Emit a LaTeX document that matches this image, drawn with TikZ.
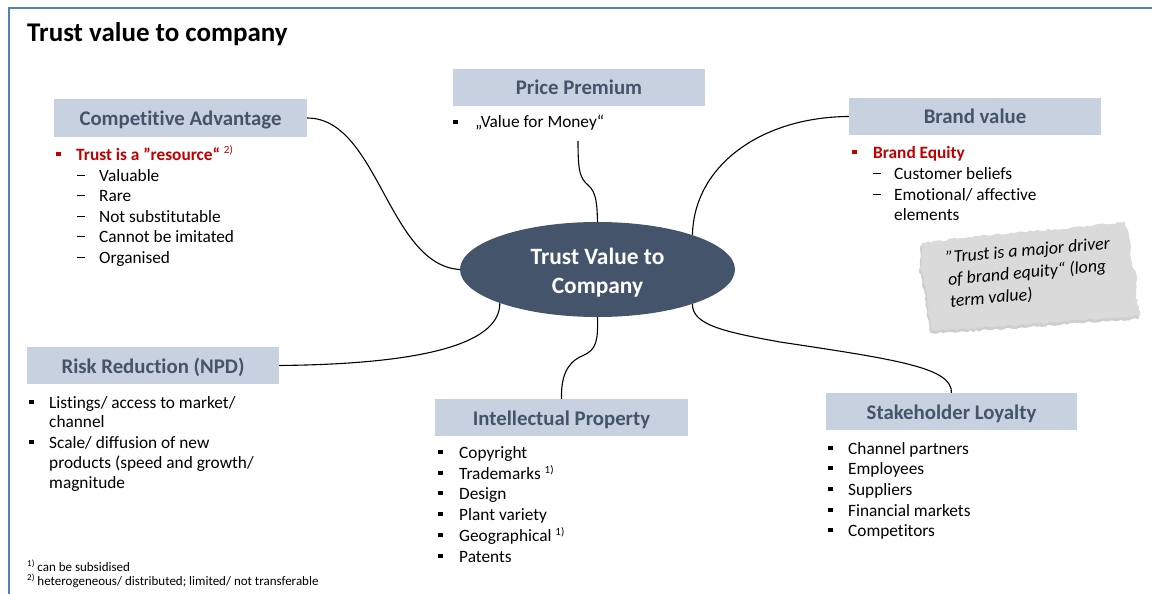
\documentclass[tikz,border=0pt]{standalone}
\usepackage{fontspec}
\setmainfont[Ligatures=NoCommon]{Carlito}
\usetikzlibrary{shapes.geometric,shadows,decorations.pathmorphing}
\definecolor{hdr}{RGB}{68,84,106}
\definecolor{boxfill}{RGB}{200,209,223}
\definecolor{redt}{RGB}{192,0,0}
\definecolor{framec}{RGB}{79,129,189}
\definecolor{notefill}{RGB}{218,218,218}
\newcommand\sqb{\rule[3.8pt]{4.5pt}{4.5pt}}
\newcommand\dsh{\rule[5.5pt]{8pt}{0.7pt}}
\newcommand\supn[1]{\raisebox{6pt}{\fontsize{11}{12}\selectfont #1}}
\newcommand\supf[1]{\raisebox{4.5pt}{\fontsize{9}{10}\selectfont #1}}
\begin{document}
\begin{tikzpicture}[x=1pt,y=-1pt,
  hbox/.style={rectangle,fill=boxfill,minimum width=252pt,minimum height=37pt,inner sep=0pt,text height=15pt,text depth=0pt,text=hdr,font=\fontsize{20.8}{24}\selectfont\bfseries},
  li/.style={anchor=base west,inner sep=0pt,font=\fontsize{17.3}{20.7}\selectfont},
  conn/.style={draw=black,line width=1.1pt},
  ]
\useasboundingbox (0,0) rectangle (1152,594);
\draw[framec,line width=2pt] (9,594) -- (9,8) -- (1152,8);

% title
\node[anchor=base west,inner sep=0pt,font=\fontsize{27}{32}\selectfont\bfseries] (title) at (27,42) {Trust value to company};

% torn note
\path[fill=notefill,drop shadow={shadow xshift=-1.5pt,shadow yshift=-3pt,fill=gray!55,opacity=0.7},decorate,decoration={random steps,segment length=3pt,amplitude=1pt}]
 (922,243) -- (960,238) -- (1010,233) -- (1070,228) -- (1125,222) -- (1130,240) -- (1131,260) -- (1137,278) -- (1136,295) -- (1140,316) -- (1080,320) -- (1020,325) -- (960,329) -- (932,330) -- (928,310) -- (926,290) -- (921,270) -- cycle;
\node[font=\fontsize{17.8}{22}\selectfont\itshape,align=left,rotate=5,inner sep=0pt] (note) at (1030,273) {”Trust is a major driver\\of brand equity“ (long\\term value)};

% header boxes
\node[hbox,minimum width=253pt,minimum height=38pt] (ca) at (180.5,118) {Competitive Advantage};
\node[hbox] (pp) at (579,87.5) {Price Premium};
\node[hbox] (bv) at (975,116.5) {Brand value};
\node[hbox] (rr) at (153,365.5) {Risk Reduction (NPD)};
\node[hbox,minimum width=253pt] (ip) at (561.5,417.5) {Intellectual Property};
\node[hbox,minimum width=251pt] (sl) at (951.5,411.5) {Stakeholder Loyalty};

% central ellipse
\node[ellipse,fill=hdr,minimum width=275pt,minimum height=95pt,inner sep=0pt] (ell) at (597.5,269.5) {};
\node[inner sep=0pt,text=white,align=center,font=\fontsize{23.4}{29}\selectfont\bfseries] (elltxt) at (597.5,272.5) {Trust Value to\\Company};

% Competitive Advantage list
\node[li,text=redt] (ca1) at (56,160) {\makebox[20pt][l]{\sqb}\textbf{Trust is a ”resource“} \supn{2)}};
\node[li] (ca2) at (77,181) {\makebox[22pt][l]{\dsh}Valuable};
\node[li] (ca3) at (77,201.5) {\makebox[22pt][l]{\dsh}Rare};
\node[li] (ca4) at (77,222) {\makebox[22pt][l]{\dsh}Not substitutable};
\node[li] (ca5) at (77,242.5) {\makebox[22pt][l]{\dsh}Cannot be imitated};
\node[li] (ca6) at (77,263) {\makebox[22pt][l]{\dsh}Organised};

% Price Premium list
\node[li] (pp1) at (453,128) {\makebox[22pt][l]{\sqb}„Value for Money“};

% Brand value list
\node[li,text=redt] (bv1) at (852,158) {\makebox[21pt][l]{\sqb}\textbf{Brand Equity}};
\node[li] (bv2) at (873,179) {\makebox[21pt][l]{\dsh}Customer beliefs};
\node[li] (bv3) at (873,200) {\makebox[21pt][l]{\dsh}Emotional/ affective};
\node[li] (bv4) at (894,220) {elements};

% Risk Reduction list
\node[li] (rr1) at (29,408) {\makebox[20pt][l]{\sqb}Listings/ access to market/};
\node[li] (rr2) at (49,427) {channel};
\node[li] (rr3) at (29,448) {\makebox[20pt][l]{\sqb}Scale/ diffusion of new};
\node[li] (rr4) at (49,468) {products (speed and growth/};
\node[li] (rr5) at (49,488) {magnitude};

% Intellectual Property list
\node[li] (ip1) at (438,458) {\makebox[21pt][l]{\sqb}Copyright};
\node[li] (ip2) at (438,479) {\makebox[21pt][l]{\sqb}Trademarks \supn{1)}};
\node[li] (ip3) at (438,499) {\makebox[21pt][l]{\sqb}Design};
\node[li] (ip4) at (438,520) {\makebox[21pt][l]{\sqb}Plant variety};
\node[li] (ip5) at (438,541) {\makebox[21pt][l]{\sqb}Geographical \supn{1)}};
\node[li] (ip6) at (438,562) {\makebox[21pt][l]{\sqb}Patents};

% Stakeholder Loyalty list
\node[li] (sl1) at (828,454) {\makebox[20pt][l]{\sqb}Channel partners};
\node[li] (sl2) at (828,474) {\makebox[20pt][l]{\sqb}Employees};
\node[li] (sl3) at (828,495) {\makebox[20pt][l]{\sqb}Suppliers};
\node[li] (sl4) at (828,516) {\makebox[20pt][l]{\sqb}Financial markets};
\node[li] (sl5) at (828,536) {\makebox[20pt][l]{\sqb}Competitors};

% footnotes
\node[anchor=base west,inner sep=0pt,font=\fontsize{13}{15}\selectfont] (fn1) at (27,571) {\supf{1)} can be subsidised};
\node[anchor=base west,inner sep=0pt,font=\fontsize{13}{15}\selectfont] (fn2) at (27,585) {\supf{2)} heterogeneous/ distributed; limited/ not transferable};

% connectors
\coordinate (ppa) at (578,141);
\draw[conn] (ca.east) .. controls (378,118) and (388,265) .. (ell.west);
\draw[conn] (ppa) .. controls (578,172) and (580,178) .. (588,185) .. controls (596,192) and (597,202) .. (ell.north);
\draw[conn] (bv.west) .. controls (762,117) and (694,165) .. (ell.20);
\draw[conn] (ell.-20) .. controls (692,325) and (725,332) .. (780,342) .. controls (900,360) and (952,368) .. (sl.north);
\draw[conn] (ell.south) .. controls (598,340) and (597,350) .. (582,356) .. controls (566,363) and (561,378) .. (ip.north);
\draw[conn] (rr.east) .. controls (430,364) and (500,342) .. (ell.-161);
\end{tikzpicture}
\end{document}
